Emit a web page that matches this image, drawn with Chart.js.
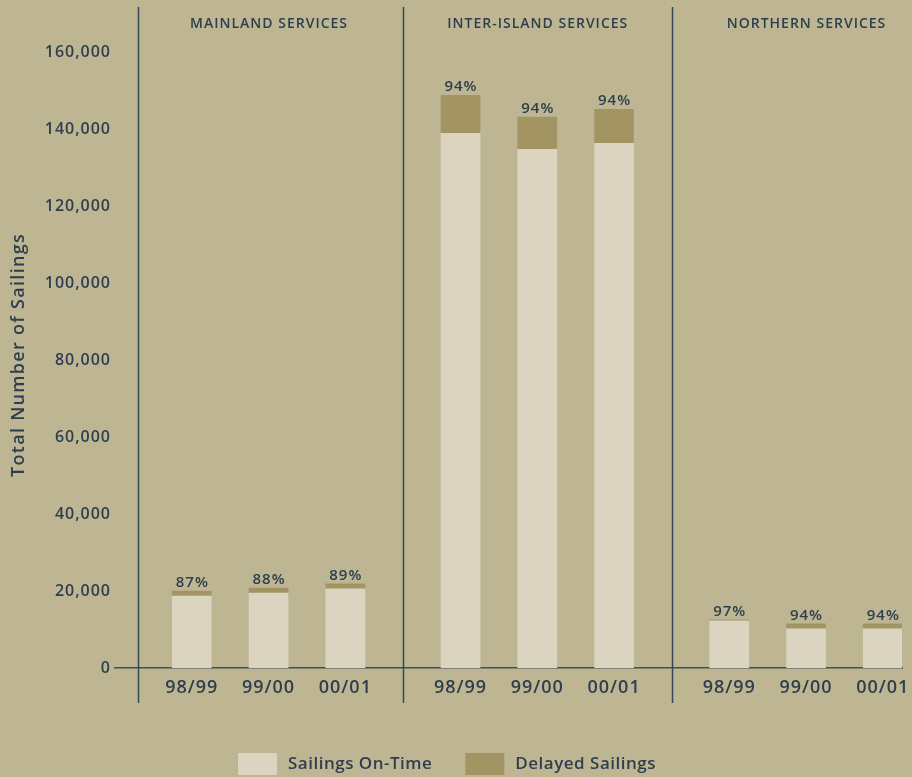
<!DOCTYPE html>
<html>
<head>
<meta charset="utf-8">
<script src="https://cdn.jsdelivr.net/npm/chart.js@4/dist/chart.umd.min.js"></script>
<style>
  html, body { margin: 0; padding: 0; background: #beb692; }
  #wrap { width: 912px; height: 777px; }
</style>
</head>
<body>
<div id="wrap"><canvas id="c" width="912" height="777"></canvas></div>
<script>
// Season labels under each bar
const seasons = ['98/99', '99/00', '00/01', '98/99', '99/00', '00/01', '98/99', '99/00', '00/01'];
// Bar positions on the x scale (groups separated by an extra half slot)
const positions = [0, 1, 2, 3.5, 4.5, 5.5, 7, 8, 9];
// Service groups: heading and centre position
const groups = ['MAINLAND SERVICES', 'INTER-ISLAND SERVICES', 'NORTHERN SERVICES'];
const groupCentres = [1, 4.5, 8];
// Divider lines between groups
const dividers = [-0.7, 2.75, 6.25];
// Sailings per season
const onTime  = [18700, 19500, 20550, 138950, 134800, 136350, 12250, 10150, 10150];
const delayed = [1300, 1300, 1300, 9900, 8400, 8850, 250, 1300, 1300];
// On-time percentage labels
const pctLabels = ['87%', '88%', '89%', '94%', '94%', '94%', '97%', '94%', '94%'];
const yTicks = [0, 20000, 40000, 60000, 80000, 100000, 120000, 140000, 160000];
const yTitle = 'Total Number of Sailings';

const INK = '#2d3e4f';
const BG = '#beb692';
const FONT = '"Open Sans", sans-serif';

const decor = {
  id: 'decor',
  beforeDraw(chart) {
    const ctx = chart.ctx;
    ctx.fillStyle = BG;
    ctx.fillRect(0, 0, chart.width, chart.height);
    // slightly tracked lettering for axis labels
    ctx.letterSpacing = '1px';
  },
  afterDraw(chart) {
    const ctx = chart.ctx;
    const xs = chart.scales.x;
    const area = chart.chartArea;
    ctx.save();
    // group dividers
    ctx.strokeStyle = '#34475a';
    ctx.lineWidth = 1.5;
    dividers.forEach(v => {
      const px = Math.round(xs.getPixelForValue(v)) + 0.5;
      ctx.beginPath();
      ctx.moveTo(px, area.top - 7);
      ctx.lineTo(px, area.bottom + 35);
      ctx.stroke();
    });
    // group headings
    ctx.fillStyle = INK;
    ctx.font = '600 14px ' + FONT;
    ctx.textAlign = 'center';
    ctx.textBaseline = 'middle';
    ctx.letterSpacing = '1px';
    groups.forEach((g, i) => {
      ctx.fillText(g, xs.getPixelForValue(groupCentres[i]) + 0.5, area.top + 10);
    });
    // percentage labels above each stack
    const topMeta = chart.getDatasetMeta(1);
    ctx.font = '600 15px ' + FONT;
    ctx.textBaseline = 'alphabetic';
    pctLabels.forEach((t, i) => {
      const bar = topMeta.data[i];
      ctx.fillText(t, bar.x + 0.5, bar.y - 4);
    });
    // y axis title
    ctx.save();
    ctx.font = '600 18px ' + FONT;
    ctx.letterSpacing = '1.3px';
    ctx.translate(19, 355);
    ctx.rotate(-Math.PI / 2);
    ctx.textAlign = 'center';
    ctx.textBaseline = 'middle';
    ctx.fillText(yTitle, 0, 0);
    ctx.restore();
    // legend
    const items = chart.data.datasets.map(d => ({ text: d.label, color: d.backgroundColor }));
    ctx.font = '600 17px ' + FONT;
    ctx.letterSpacing = '0.5px';
    const boxW = 39, boxH = 22, gap = 11, spacing = 33;
    const widths = items.map(it => boxW + gap + ctx.measureText(it.text).width);
    const total = widths.reduce((a, b) => a + b, 0) + spacing * (items.length - 1);
    let x = 447 - total / 2;
    const cy = 764;
    ctx.textAlign = 'left';
    ctx.textBaseline = 'middle';
    items.forEach((it, i) => {
      ctx.fillStyle = it.color;
      ctx.fillRect(x, cy - boxH / 2, boxW, boxH);
      ctx.fillStyle = INK;
      ctx.fillText(it.text, x + boxW + gap, cy);
      x += widths[i] + spacing;
    });
    ctx.restore();
    ctx.letterSpacing = '0px';
  }
};

new Chart(document.getElementById('c'), {
  type: 'bar',
  data: {
    datasets: [
      {
        label: 'Sailings On-Time',
        data: positions.map((p, i) => ({ x: p, y: onTime[i] })),
        backgroundColor: '#dad4c0',
        barThickness: 39,
        borderWidth: 0
      },
      {
        label: 'Delayed Sailings',
        data: positions.map((p, i) => ({ x: p, y: delayed[i] })),
        backgroundColor: '#a39563',
        barThickness: 39,
        borderWidth: 0
      }
    ]
  },
  options: {
    responsive: false,
    animation: false,
    devicePixelRatio: 1,
    layout: { padding: { top: 14, right: 10, left: 0, bottom: 0 } },
    plugins: {
      legend: { display: false },
      tooltip: { enabled: false }
    },
    scales: {
      x: {
        type: 'linear',
        stacked: true,
        offset: false,
        min: -1,
        max: 9.25,
        afterBuildTicks(scale) { scale.ticks = positions.map(v => ({ value: v })); },
        afterFit(scale) {
          scale.height = 109;
          scale.paddingLeft = 0;
          scale.paddingRight = 0;
        },
        grid: { display: false, drawTicks: false },
        border: { display: true, color: '#3d4f60', width: 1.5 },
        ticks: {
          autoSkip: false,
          maxRotation: 0,
          padding: 9,
          color: INK,
          font: { family: FONT, size: 18, weight: '600' },
          callback: (v, i) => seasons[i]
        }
      },
      y: {
        stacked: true,
        min: 0,
        max: 170000,
        afterBuildTicks(scale) { scale.ticks = yTicks.map(v => ({ value: v })); },
        afterFit(scale) {
          scale.width = 115;
          scale.paddingTop = 0;
          scale.paddingBottom = 0;
        },
        grid: { display: false, drawTicks: false },
        border: { display: false },
        title: { display: false },
        ticks: {
          padding: 4,
          color: INK,
          font: { family: FONT, size: 16, weight: '600' },
          callback: v => v.toLocaleString('en-US')
        }
      }
    }
  },
  plugins: [decor]
});
</script>
</body>
</html>
